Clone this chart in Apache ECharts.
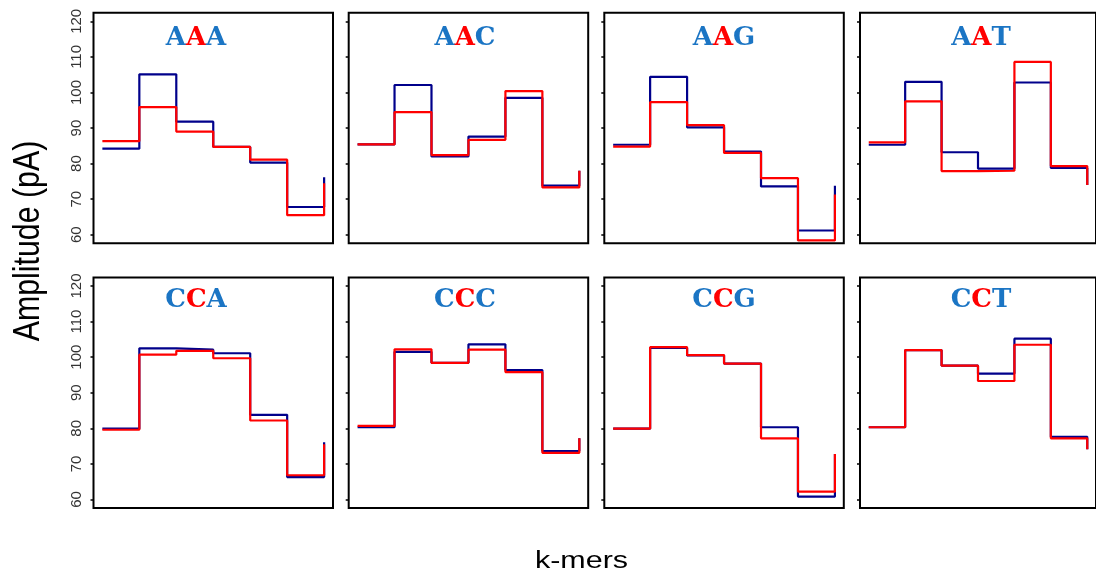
<!DOCTYPE html>
<html><head><meta charset="utf-8">
<script src="https://cdn.jsdelivr.net/npm/echarts@6/dist/echarts.min.js"></script>
<style>html,body{margin:0;padding:0;background:#fff}#c{width:1096px;height:575px}</style>
</head><body><div id="c"></div>
<script>
// ---- data ----
const kmers = ['AAA', 'AAC', 'AAG', 'AAT', 'CCA', 'CCC', 'CCG', 'CCT'];
const xPos = [1, 2, 3, 4, 5, 6, 7];
const yTicks = [60, 70, 80, 90, 100, 110, 120];

const aaaBlue = [84.2, 105.1, 91.8, 84.7, 80.3, 67.8, 76.2];
const aaaRed  = [86.3, 95.9, 89.0, 84.7, 81.1, 65.5, 74.5];
const aacBlue = [85.4, 102.1, 82.0, 87.6, 98.5, 73.8, 78.0];
const aacRed  = [85.4, 94.5, 82.4, 86.7, 100.4, 73.3, 78.0];
const aagBlue = [85.3, 104.4, 90.2, 83.4, 73.6, 61.2, 73.8];
const aagRed  = [84.8, 97.3, 90.8, 83.0, 75.9, 58.4, 71.3];
const aatBlue = [85.3, 103.0, 83.2, 78.6, 102.8, 78.8, 74.0];
const aatRed  = [86.0, 97.5, 77.9, 78.0, 108.6, 79.3, 74.0];
const ccaBlue = [79.9, 102.5, 102.1, 101.1, 83.8, 66.3, 76.1];
const ccaRed  = [79.6, 100.7, 101.8, 99.7, 82.2, 66.8, 75.5];
const cccBlue = [80.3, 101.5, 98.4, 103.6, 96.4, 73.6, 77.2];
const cccRed  = [80.7, 102.2, 98.4, 102.1, 95.8, 73.1, 77.2];
const ccgBlue = [79.9, 102.6, 100.5, 98.2, 80.3, 60.8, 72.8];
const ccgRed  = [79.9, 102.8, 100.6, 98.2, 77.2, 62.2, 72.8];
const cctBlue = [80.3, 102.0, 97.6, 95.4, 105.2, 77.6, 74.1];
const cctRed  = [80.3, 102.0, 97.6, 93.3, 103.5, 77.2, 74.1];

const blueSets = [aaaBlue, aacBlue, aagBlue, aatBlue, ccaBlue, cccBlue, ccgBlue, cctBlue];
const redSets  = [aaaRed, aacRed, aagRed, aatRed, ccaRed, cccRed, ccgRed, cctRed];

// ---- layout / style ----
const colLeft = [93.5, 348.7, 604.3, 860];
const boxW = 239.5;
const rowTop = [12.8, 277.5];
const boxH = 230.5;
const titleX = [196, 465, 724, 981];
const titleY = [38, 300.5];
const BLUE_LINE = '#00008B', RED = '#FF0000', TITLE_BLUE = '#1B75C4';
const TITLE_FONT = 'DejaVu Serif, Liberation Serif, serif';

const grids = [], xAxes = [], yAxes = [], series = [], graphics = [];
kmers.forEach((k, i) => {
  const r = Math.floor(i / 4), c = i % 4;
  grids.push({ left: colLeft[c], top: rowTop[r], width: boxW, height: boxH,
    show: true, borderColor: '#000', borderWidth: 2, backgroundColor: 'transparent', containLabel: false });
  xAxes.push({ type: 'value', gridIndex: i, min: 0.76, max: 7.24,
    axisLine: { show: false }, axisTick: { show: false }, axisLabel: { show: false }, splitLine: { show: false } });
  yAxes.push({ type: 'value', gridIndex: i, min: 57.6, max: 122.4,
    axisLine: { show: false },
    axisTick: { show: true, inside: false, length: 3, customValues: yTicks, lineStyle: { color: '#000', width: 1.5 } },
    axisLabel: { show: c === 0, customValues: yTicks, rotate: 90, margin: 9, fontSize: 15,
      fontFamily: 'Liberation Sans, Arial, sans-serif', color: '#333' },
    splitLine: { show: false } });
  const mk = arr => xPos.map((x, j) => [x, arr[j]]);
  series.push({ type: 'line', xAxisIndex: i, yAxisIndex: i, step: 'end', symbol: 'none',
    data: mk(blueSets[i]), lineStyle: { color: BLUE_LINE, width: 2.2 }, z: 2 });
  series.push({ type: 'line', xAxisIndex: i, yAxisIndex: i, step: 'end', symbol: 'none',
    data: mk(redSets[i]), lineStyle: { color: RED, width: 2.2 }, z: 3 });
  graphics.push({ type: 'text', x: titleX[c], y: titleY[r], z: 10,
    style: { text: '{b|' + k[0] + '}{r|' + k[1] + '}{b|' + k[2] + '}', align: 'center', verticalAlign: 'middle',
      rich: {
        b: { fill: TITLE_BLUE, fontFamily: TITLE_FONT, fontWeight: 'bold', fontSize: 26 },
        r: { fill: RED, fontFamily: TITLE_FONT, fontWeight: 'bold', fontSize: 26 }
      } } });
});

graphics.push({ type: 'text', x: 28.8, y: 241, rotation: Math.PI / 2, scaleX: 0.82, scaleY: 1,
  style: { text: 'Amplitude (pA)', align: 'center', verticalAlign: 'middle', fill: '#000',
    fontFamily: 'Liberation Sans, Arial, sans-serif', fontSize: 37 } });
graphics.push({ type: 'text', x: 581.5, y: 560.8, scaleX: 1, scaleY: 0.8,
  style: { text: 'k-mers', align: 'center', verticalAlign: 'middle', fill: '#000',
    fontFamily: 'Liberation Sans, Arial, sans-serif', fontSize: 30.5 } });

const chart = echarts.init(document.getElementById('c'), null, { renderer: 'canvas' });
chart.setOption({
  animation: false,
  backgroundColor: '#fff',
  grid: grids, xAxis: xAxes, yAxis: yAxes, series: series, graphic: graphics
});
</script>
</body></html>
